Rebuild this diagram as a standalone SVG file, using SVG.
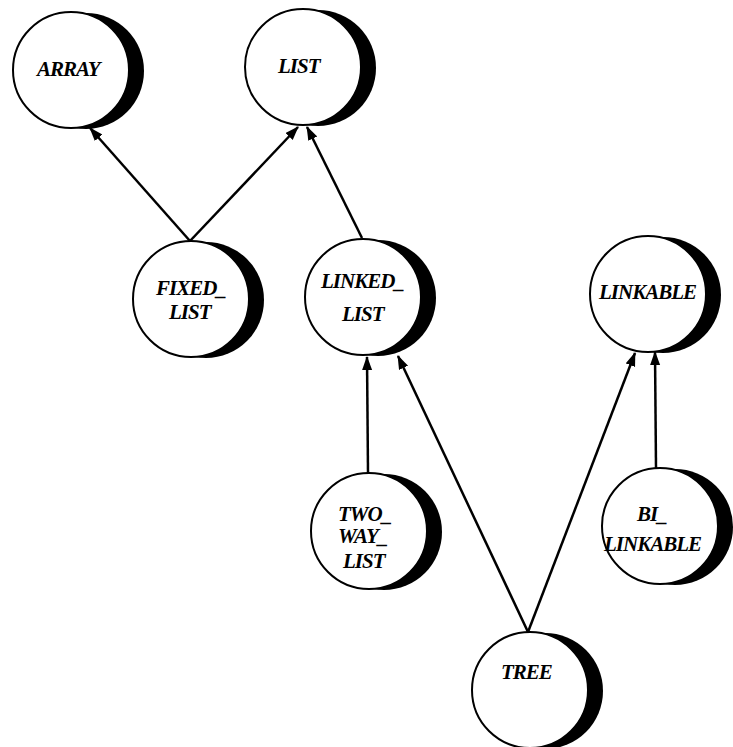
<svg xmlns="http://www.w3.org/2000/svg" width="733" height="747" viewBox="0 0 733 747">
<style>
.bg{fill:#fff}
.sh{fill:#000}
.c{fill:#fff;stroke:#000;stroke-width:2}
.t{font-family:"Liberation Serif","Times New Roman",serif;font-style:italic;font-weight:bold;font-size:21px;letter-spacing:-1px;fill:#000}
.e{stroke:#000;stroke-width:2.5;fill:none;marker-end:url(#ah)}
</style>
<defs>
<marker id="ah" markerUnits="userSpaceOnUse" markerWidth="14" markerHeight="12" refX="13" refY="5" orient="auto">
<path d="M0,0 L14,5 L0,10 z" fill="#000"/>
</marker>
</defs>
<rect class="bg" x="0" y="0" width="733" height="747"/>
<g id="connectors">
<line class="e" x1="190" y1="241" x2="90" y2="128"/>
<line class="e" x1="190" y1="241" x2="298" y2="127"/>
<line class="e" x1="362" y1="238" x2="307" y2="127"/>
<line class="e" x1="368" y1="473" x2="367" y2="357"/>
<line class="e" x1="528" y1="632" x2="398" y2="356"/>
<line class="e" x1="528" y1="632" x2="635" y2="353"/>
<line class="e" x1="656" y1="468" x2="655" y2="352"/>
</g>
<g id="ARRAY">
<circle class="sh" cx="86" cy="71" r="58"/>
<circle class="c" cx="71" cy="70" r="58"/>
<text class="t" x="37" y="76">ARRAY</text>
</g>
<g id="LIST">
<circle class="sh" cx="318" cy="68" r="58"/>
<circle class="c" cx="303" cy="67" r="58"/>
<text class="t" x="278" y="73">LIST</text>
</g>
<g id="FIXED_LIST">
<circle class="sh" cx="206" cy="300" r="58"/>
<circle class="c" cx="191" cy="299" r="58"/>
<text class="t" x="156" y="295">FIXED_</text>
<text class="t" x="169" y="319">LIST</text>
</g>
<g id="LINKED_LIST">
<circle class="sh" cx="378" cy="298" r="58"/>
<circle class="c" cx="363" cy="297" r="58"/>
<text class="t" x="321" y="288">LINKED_</text>
<text class="t" x="342" y="321">LIST</text>
</g>
<g id="LINKABLE">
<circle class="sh" cx="663" cy="295" r="58"/>
<circle class="c" cx="648" cy="294" r="58"/>
<text class="t" x="599" y="299">LINKABLE</text>
</g>
<g id="TWO_WAY_LIST">
<circle class="sh" cx="384" cy="532" r="58"/>
<circle class="c" cx="369" cy="531" r="58"/>
<text class="t" x="338" y="521">TWO_</text>
<text class="t" x="338" y="543">WAY_</text>
<text class="t" x="343" y="568">LIST</text>
</g>
<g id="BI_LINKABLE">
<circle class="sh" cx="675" cy="527" r="58"/>
<circle class="c" cx="660" cy="526" r="58"/>
<text class="t" x="637" y="521">BI_</text>
<text class="t" x="604" y="551">LINKABLE</text>
</g>
<g id="TREE">
<circle class="sh" cx="545" cy="691" r="58"/>
<circle class="c" cx="530" cy="690" r="58"/>
<text class="t" x="501" y="679">TREE</text>
</g>
</svg>
